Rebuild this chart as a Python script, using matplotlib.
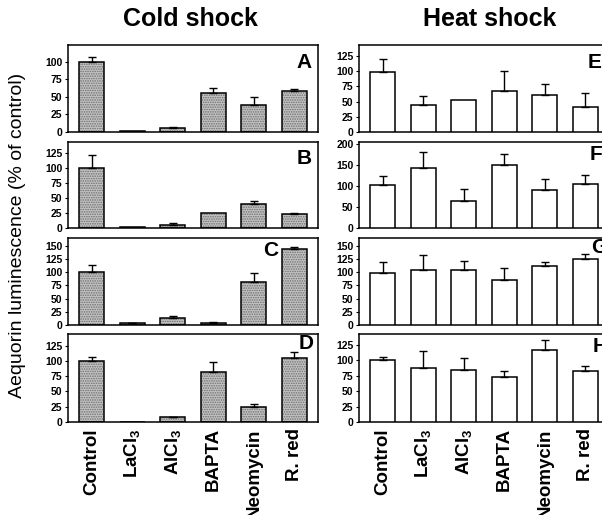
import matplotlib

matplotlib.use('Agg')

import matplotlib.pyplot as plt
import numpy as np


OUTPUT_PATH = 'out.png'

LABELS = ['Control', 'LaCl$_3$', 'AlCl$_3$', 'BAPTA', 'Neomycin', 'R. red']

# cold shock panels (mean, upper error)
COLD_A = [100, 2, 5, 56, 39, 58]
COLD_A_ERR = [7, 0, 2, 7, 11, 4]
COLD_B = [100, 1, 5.5, 25.5, 41, 23]
COLD_B_ERR = [22, 0, 2.5, 0, 5, 2.5]
COLD_C = [100, 3, 14, 4, 82.5, 144]
COLD_C_ERR = [13, 1.5, 3, 2, 16.5, 4]
COLD_D = [100, 0.5, 8, 82, 24, 104]
COLD_D_ERR = [6.5, 0, 1, 17, 6, 11]

# heat shock panels
HEAT_E = [99, 45, 53, 67, 60.5, 41]
HEAT_E_ERR = [21, 14, 0, 33, 18, 23]
HEAT_F = [102, 144, 65, 149, 90.5, 105.5]
HEAT_F_ERR = [21, 38, 29, 28, 26.5, 21.5]
HEAT_G = [98, 104, 104, 85, 111.5, 125.5]
HEAT_G_ERR = [21, 28, 18, 23, 7.5, 9.5]
HEAT_H = [100.5, 88, 84.5, 73, 116.7, 83]
HEAT_H_ERR = [5, 28, 20, 10, 17, 8]

PANEL_LETTERS = ['A', 'B', 'C', 'D', 'E', 'F', 'G', 'H']
YLIMS = [124, 144, 165, 144, 143, 205, 165, 143]
YTICKS = [
    np.arange(0, 101, 25),
    np.arange(0, 126, 25),
    np.arange(0, 151, 25),
    np.arange(0, 126, 25),
    np.arange(0, 126, 25),
    np.arange(0, 201, 50),
    np.arange(0, 151, 25),
    np.arange(0, 126, 25),
]
LETTER_POS = [
    (0.915, 0.80), (0.915, 0.81), (0.78, 0.86), (0.924, 0.89),
    (0.916, 0.80), (0.924, 0.86), (0.93, 0.89), (0.936, 0.86),
]

FONT = 'Liberation Sans'
BAR_WIDTH = 0.62

plt.rcParams['font.family'] = [FONT, 'DejaVu Sans']
plt.rcParams['mathtext.fontset'] = 'custom'
plt.rcParams['mathtext.rm'] = 'Liberation Sans:bold'
plt.rcParams['mathtext.it'] = 'Liberation Sans:bold'
plt.rcParams['mathtext.bf'] = 'Liberation Sans:bold'
plt.rcParams['hatch.linewidth'] = 0.8


def draw_panel(ax, values, errors, idx, cold, show_xlabels):
    x = np.arange(len(values))
    if cold:
        # stippled fill first, then a plain black outline on top
        ax.bar(x, values, width=BAR_WIDTH, color='#c4c4c4', edgecolor='#6e6e6e',
               hatch='.......', linewidth=0, zorder=2)
        ax.bar(x, values, width=BAR_WIDTH, fill=False, edgecolor='black',
               linewidth=1.1, zorder=3)
    else:
        ax.bar(x, values, width=BAR_WIDTH, color='white', edgecolor='black',
               linewidth=1.1, zorder=3)

    vals = np.array(values, dtype=float)
    errs = np.array(errors, dtype=float)
    has_err = errs > 0
    ax.errorbar(x[has_err], vals[has_err],
                yerr=[np.zeros(has_err.sum()), errs[has_err]],
                fmt='none', ecolor='black', elinewidth=1.0, capsize=2.6,
                capthick=1.0, zorder=4)

    ax.set_xlim(-0.58, 5.58)
    ax.set_ylim(0, YLIMS[idx])
    ax.set_yticks(YTICKS[idx])
    ax.tick_params(axis='y', direction='out', length=2.5, width=0.8, pad=1.5,
                   labelsize=7.5)
    for lab in ax.get_yticklabels():
        lab.set_fontweight('bold')
    ax.tick_params(axis='x', length=0, pad=4.5)
    ax.set_xticks(x)
    if show_xlabels:
        ax.set_xticklabels(LABELS, rotation=90, fontsize=13.5,
                           fontweight='bold', va='top')
    else:
        ax.set_xticklabels([])
    for spine in ax.spines.values():
        spine.set_linewidth(1.1)

    lx, ly = LETTER_POS[idx]
    ax.text(lx, ly, PANEL_LETTERS[idx], transform=ax.transAxes, ha='left',
            va='center', fontsize=15, fontweight='bold')


def main():
    fig = plt.figure(figsize=(6.02, 5.15), dpi=100)
    W, H = 602.0, 515.0

    rows = [(45, 132), (142, 228), (238, 325), (334, 422)]
    cold_data = [(COLD_A, COLD_A_ERR), (COLD_B, COLD_B_ERR),
                 (COLD_C, COLD_C_ERR), (COLD_D, COLD_D_ERR)]
    heat_data = [(HEAT_E, HEAT_E_ERR), (HEAT_F, HEAT_F_ERR),
                 (HEAT_G, HEAT_G_ERR), (HEAT_H, HEAT_H_ERR)]

    for i, (top, bottom) in enumerate(rows):
        last = i == len(rows) - 1
        ax_l = fig.add_axes([68 / W, 1 - bottom / H, 250 / W, (bottom - top) / H])
        draw_panel(ax_l, cold_data[i][0], cold_data[i][1], i, True, last)
        ax_r = fig.add_axes([359 / W, 1 - bottom / H, 250 / W, (bottom - top) / H])
        draw_panel(ax_r, heat_data[i][0], heat_data[i][1], i + 4, False, last)

    fig.text(190 / W, 1 - 19 / H, 'Cold shock', ha='center', va='center',
             fontsize=18, fontweight='bold')
    fig.text(490 / W, 1 - 19 / H, 'Heat shock', ha='center', va='center',
             fontsize=18, fontweight='bold')
    fig.text(18 / W, 1 - 235 / H, 'Aequorin luminescence (% of control)',
             rotation=90, ha='center', va='center', fontsize=14)

    fig.savefig(OUTPUT_PATH, dpi=100)
    plt.close(fig)


if __name__ == '__main__':
    main()
